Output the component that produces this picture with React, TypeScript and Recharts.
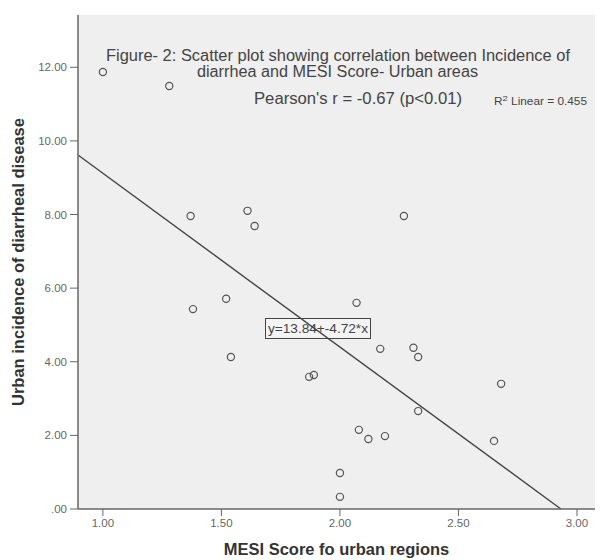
import {
  ScatterChart,
  Scatter,
  XAxis,
  YAxis,
  CartesianGrid,
  ReferenceLine,
} from "recharts";

const mesiScore = [
  1.0, 1.28, 1.37, 1.61, 1.64, 2.27, 1.38, 1.52, 1.54, 2.07, 2.17, 2.31, 2.33,
  1.87, 1.89, 2.68, 2.33, 2.08, 2.12, 2.19, 2.65, 2.0, 2.0,
];
const urbanIncidence = [
  11.87, 11.49, 7.96, 8.1, 7.69, 7.96, 5.43, 5.71, 4.13, 5.6, 4.35, 4.38, 4.13,
  3.59, 3.64, 3.4, 2.66, 2.15, 1.9, 1.98, 1.85, 0.98, 0.33,
];
const xTicks = [1, 1.5, 2, 2.5, 3];
const yTicks = [0, 2, 4, 6, 8, 10, 12];
const xDomain = [0.895, 3.076];
const yDomain = [0, 13.42];

// fit line from the figure: y = 13.84 + -4.72 * x
const intercept = 13.84;
const slope = -4.72;

const points = mesiScore.map((x, i) => ({ x, y: urbanIncidence[i] }));
const fitStart = { x: xDomain[0], y: intercept + slope * xDomain[0] };
const fitEnd = { x: -intercept / slope, y: 0 };

const fmt = (v: number) => (v === 0 ? ".00" : v.toFixed(2));

const font = "Arial, 'Liberation Sans', sans-serif";

function Ring(props: any) {
  const { cx, cy } = props;
  return (
    <circle cx={cx} cy={cy} r={3.6} fill="none" stroke="#555" strokeWidth={1.2} />
  );
}

export default function App() {
  return (
    <div
      style={{
        position: "absolute",
        left: 0,
        top: 0,
        width: 601,
        height: 560,
        background: "#fff",
        fontFamily: font,
      }}
    >
      <ScatterChart
        width={601}
        height={560}
        margin={{ top: 15, right: 6, bottom: 0, left: 0 }}
      >
        <CartesianGrid horizontal={false} vertical={false} fill="#efefef" />

        <XAxis
          type="number"
          dataKey="x"
          domain={xDomain}
          ticks={xTicks}
          tickFormatter={fmt}
          allowDataOverflow
          height={51}
          tickSize={7}
          tickMargin={3}
          axisLine={{ stroke: "#666", strokeWidth: 1.5 }}
          tickLine={{ stroke: "#666" }}
          tick={{ fontSize: 11.5, fill: "#666", fontFamily: font }}
          label={{
            value: "MESI Score fo urban regions",
            position: "insideBottom",
            offset: 5,
            style: { fontSize: 16.5, fontWeight: "bold", fill: "#333", fontFamily: font },
          }}
        />
        <YAxis
          type="number"
          dataKey="y"
          domain={yDomain}
          ticks={yTicks}
          tickFormatter={fmt}
          allowDataOverflow
          width={78}
          tickSize={8}
          tickMargin={3}
          axisLine={{ stroke: "#666", strokeWidth: 1.5 }}
          tickLine={{ stroke: "#666" }}
          tick={{ fontSize: 11.5, fill: "#666", fontFamily: font }}
          label={{
            value: "Urban incidence of diarrheal disease",
            angle: -90,
            position: "insideLeft",
            offset: 18,
            style: {
              fontSize: 16.5,
              fontWeight: "bold",
              fill: "#333",
              fontFamily: font,
              textAnchor: "middle",
            },
          }}
        />
        <XAxis
          xAxisId="top"
          orientation="top"
          type="number"
          domain={xDomain}
          height={0}
          tick={false}
          tickLine={false}
          axisLine={{ stroke: "#999", strokeWidth: 1.5 }}
        />
        <YAxis
          yAxisId="right"
          orientation="right"
          type="number"
          domain={yDomain}
          width={0}
          tick={false}
          tickLine={false}
          axisLine={{ stroke: "#ddd" }}
        />

        <ReferenceLine
          segment={[fitStart, fitEnd]}
          stroke="#444"
          strokeWidth={1.4}
        />

        <Scatter data={points} shape={<Ring />} isAnimationActive={false} />

        <g fill="#444" fontFamily={font}>
          <text
            x={106}
            y={61}
            fontSize={16}
            textLength={464}
            lengthAdjust="spacingAndGlyphs"
          >
            Figure- 2: Scatter plot showing correlation between Incidence of
          </text>
          <text
            x={197}
            y={77}
            fontSize={16}
            textLength={281}
            lengthAdjust="spacingAndGlyphs"
          >
            diarrhea and MESI Score- Urban areas
          </text>
          <text
            x={254}
            y={104}
            fontSize={16}
            textLength={208}
            lengthAdjust="spacingAndGlyphs"
          >
            Pearson's r = -0.67 (p&lt;0.01)
          </text>
          <text x={494} y={105} fontSize={10} textLength={93} lengthAdjust="spacingAndGlyphs">
            R<tspan dy={-4} fontSize={8}>2</tspan>
            <tspan dy={4}> Linear = 0.455</tspan>
          </text>
          <rect
            x={265.5}
            y={318.5}
            width={105}
            height={20}
            fill="#f4f4f4"
            stroke="#444"
            strokeWidth={1}
          />
          <text
            x={268}
            y={333}
            fontSize={12.5}
            textLength={100}
            lengthAdjust="spacingAndGlyphs"
          >
            y=13.84+-4.72*x
          </text>
        </g>
      </ScatterChart>
    </div>
  );
}
